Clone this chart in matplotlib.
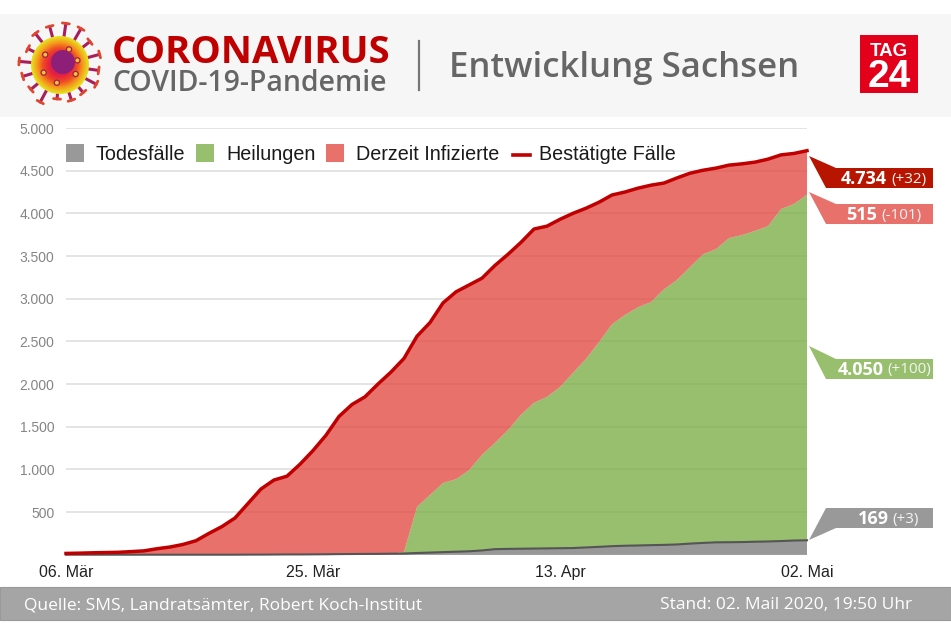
import numpy as np
import matplotlib
matplotlib.use('Agg')
import matplotlib.pyplot as plt
from matplotlib.colors import LinearSegmentedColormap
from matplotlib.patches import Polygon, Rectangle, Circle

# daily values 06. Mar - 02. Mai
confirmed = [15, 18, 22, 25, 28, 36, 45, 70, 90, 120, 164, 250, 330, 430, 600, 770, 875, 920,
             1060, 1220, 1400, 1620, 1760, 1850, 2000, 2140, 2300, 2560, 2720, 2950, 3080,
             3160, 3240, 3390, 3520, 3660, 3816, 3850, 3930, 4000, 4060, 4130, 4215, 4250,
             4295, 4330, 4355, 4415, 4470, 4505, 4530, 4565, 4580, 4600, 4635, 4685, 4702, 4734]
deaths = [0, 0, 0, 0, 0, 0, 0, 0, 0, 0, 0, 0, 0, 0, 1, 1, 2, 3, 3, 4, 5, 7, 8, 9, 10, 12,
          14, 20, 25, 30, 35, 40, 50, 65, 68, 70, 72, 74, 76, 78, 85, 92, 100, 105, 108, 112,
          115, 120, 130, 138, 145, 146, 148, 152, 155, 160, 166, 169]
recovered = [0, 0, 0, 0, 0, 0, 0, 0, 0, 0, 0, 0, 0, 0, 0, 0, 0, 0, 0, 0, 0, 0, 0, 0, 0, 0,
             20, 540, 675, 810, 850, 950, 1120, 1245, 1392, 1570, 1708, 1776, 1889, 2052,
             2210, 2398, 2600, 2705, 2792, 2848, 2995, 3100, 3240, 3382, 3435, 3564, 3597,
             3643, 3695, 3890, 3944, 4050]
infected = [c - d - r for c, d, r in zip(confirmed, deaths, recovered)]

y_ticks = [500, 1000, 1500, 2000, 2500, 3000, 3500, 4000, 4500, 5000]
y_labels = ['500', '1.000', '1.500', '2.000', '2.500', '3.000', '3.500', '4.000', '4.500', '5.000']
x_ticks = [0, 19, 38, 57]
x_labels = ['06. Mär', '25. Mär', '13. Apr', '02. Mai']
legend_names = ['Todesfälle', 'Heilungen', 'Derzeit Infizierte', 'Bestätigte Fälle']

W, H = 951, 634
RED = '#C00000'
DARKRED = '#B71500'
GREY_TXT = '#666666'

fig = plt.figure(figsize=(W / 100, H / 100), dpi=100)

# overlay in pixel coords for header, footer and callouts
bg = fig.add_axes([0, 0, 1, 1])
bg.set_xlim(0, W)
bg.set_ylim(H, 0)
bg.axis('off')
bg.add_patch(Rectangle((0, 14), W, 103, fc='#F6F6F6', ec='none'))
bg.add_patch(Rectangle((0, 587), W, 33, fc='#A5A5A5', ec='#999999', lw=0.8))

# chart
ax = fig.add_axes([66 / W, 1 - 554.7 / H, (807 - 66) / W, (554.7 - 128) / H])
ax.patch.set_alpha(0)
x = np.arange(len(confirmed))
ax.set_xlim(0, 57)
ax.set_ylim(0, 5000)
ax.set_axisbelow(True)
ax.grid(axis='y', color='#DDDDDD', lw=1.1)
ax.stackplot(x, deaths, recovered, infected,
             colors=['#7F7F7F', '#7DAF4A', '#E34D47'], alpha=0.8, lw=0)
ax.plot(x, np.array(deaths), color='#555555', lw=1.5, clip_on=False)
ax.plot(x, confirmed, color=RED, lw=2.5, solid_joinstyle='round', clip_on=False)
for s in ax.spines.values():
    s.set_visible(False)
ax.axhline(0, color='#999999', lw=1.2, zorder=1)
ax.set_yticks(y_ticks)
ax.set_yticklabels(y_labels, fontsize=10, color='#858585', family='Liberation Sans')
ax.set_xticks(x_ticks)
ax.set_xticklabels(x_labels, fontsize=11.5, color='#222222', family='Liberation Sans')
ax.tick_params(length=0)
ax.tick_params(axis='y', pad=8.5)
ax.tick_params(axis='x', pad=7.5)

# legend
over = fig.add_axes([0, 0, 1, 1])
over.set_xlim(0, W)
over.set_ylim(H, 0)
over.axis('off')
for sx, tx, col, name in zip([66, 196, 326], [96, 226, 356],
                             ['#999999', '#97BF6E', '#E9716C'], legend_names):
    over.add_patch(Rectangle((sx, 143.5), 18, 18.5, fc=col, ec='none'))
    over.text(tx, 154.5, name, fontsize=14.25, color='#1A1A1A', va='center', family='Liberation Sans')
over.plot([513, 530], [155, 155], color=RED, lw=2.6)
over.text(539, 154.5, legend_names[3], fontsize=14.25, color='#1A1A1A', va='center', family='Liberation Sans')

# header
over.text(112, 63, 'CORONAVIRUS', fontsize=27.5, fontweight='bold', color=RED, va='baseline', family='Open Sans')
over.text(112, 91, 'COVID-19-Pandemie', fontsize=20.4, fontweight='semibold', color=GREY_TXT, va='baseline', family='Open Sans')
over.plot([419, 419], [41, 90], color='#777777', lw=1.6)
over.text(449, 77, 'Entwicklung Sachsen', fontsize=25, fontweight='semibold', color=GREY_TXT, va='baseline', family='Open Sans')

# virus icon
cx, cy = 60, 65
spike_deg = [8, 28, 50, 72, 95, 118, 140, 163, 185, 207, 232, 255, 278, 300, 322, 345]
spike_len = [39, 41, 36, 37, 34, 42, 38, 39, 41, 36, 40, 40, 42, 42, 38, 41]
for deg, r in zip(spike_deg, spike_len):
    a = np.radians(deg)
    ex, ey = cx + r * np.cos(a), cy + r * np.sin(a)
    over.plot([cx + 24 * np.cos(a), ex], [cy + 24 * np.sin(a), ey], color='#A81E5C', lw=2.2, solid_capstyle='round')
    # forked tip
    px, py = -np.sin(a) * 3.5, np.cos(a) * 3.5
    over.plot([ex - px, ex + px], [ey - py, ey + py], color='#E0452E', lw=2, solid_capstyle='round')
body = LinearSegmentedColormap.from_list('body', ['#8E1F78', '#C41C60', '#E8213F', '#EE4A24', '#F59A1C', '#E6E01E'])
for r in np.linspace(29, 3, 27):
    over.add_patch(Circle((cx, cy), r, fc=body(r / 29), ec='none', zorder=3))
over.add_patch(Circle((cx + 3, cy - 3), 12, fc='#8E1F78', ec='none', zorder=3))
for a in np.radians([30, 100, 155, 215, 300, 345]):
    over.add_patch(Circle((cx + 18 * np.cos(a), cy + 18 * np.sin(a)), 2.6, fc='#F4C430', ec='#A01C50', lw=0.9, zorder=4))

# TAG24 logo
over.add_patch(Rectangle((860, 35), 58, 58, fc='#E2001A', ec='none'))
over.text(888.5, 56, 'TAG', fontsize=13.5, fontweight='bold', color='white', ha='center', va='baseline', family='Liberation Sans')
over.text(889.5, 87, '24', fontsize=28, fontweight='bold', color='white', ha='center', va='baseline', family='Liberation Sans')

# footer
over.text(24, 605, 'Quelle: SMS, Landratsämter, Robert Koch-Institut', fontsize=12.5, color='white', va='center', family='Open Sans')
over.text(912, 605, 'Stand: 02. Mail 2020, 19:50 Uhr', fontsize=12.5, color='white', ha='right', va='center', family='Open Sans')


# callouts at the right edge, tip points to the series end
def callout(tip_y, top, bottom, col, big, small, right, up=False):
    if up:
        pts = [(809, tip_y), (826, top), (933, top), (933, bottom), (836, bottom)]
    else:
        pts = [(809, tip_y), (836, top), (933, top), (933, bottom), (826, bottom)]
    over.add_patch(Polygon(pts, closed=True, fc=col, ec='none'))
    t = over.text(right, (top + bottom) / 2 + 1, small, fontsize=11, color='#F4F4F4', ha='right', va='center', family='Open Sans')
    fig.canvas.draw()
    bb = t.get_window_extent()
    over.text(bb.x0 - 4, (top + bottom) / 2 + 1, big, fontsize=13, fontweight='bold', color='white', ha='right', va='center', family='Open Sans')


callout(156, 168, 188, DARKRED, '4.734', '(+32)', 926)
callout(192, 204, 224, '#E9716C', '515', '(-101)', 921)
callout(346, 359, 379, '#97BF6E', '4.050', '(+100)', 931)
callout(540, 508, 528, '#999999', '169', '(+3)', 919, up=True)

fig.savefig('out.png', dpi=100)
